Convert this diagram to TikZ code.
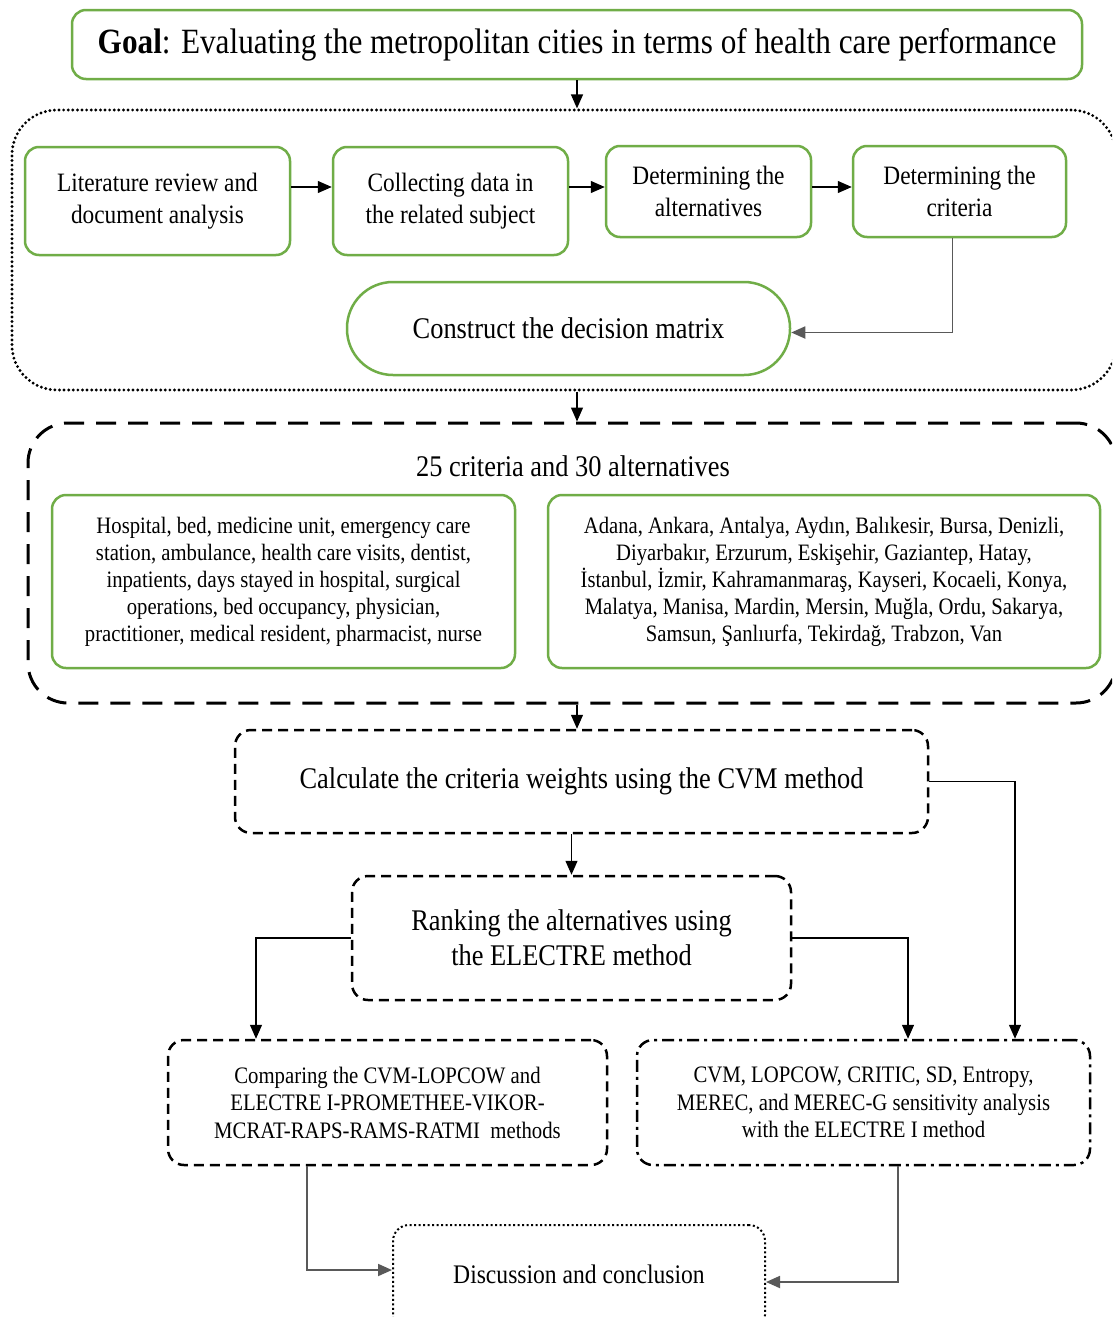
\documentclass[tikz,border=0pt]{standalone}
\usepackage{fontspec}
\setmainfont{Liberation Serif}[FakeStretch=0.88]
\usetikzlibrary{arrows.meta}
\definecolor{gr}{HTML}{70AD47}
\begin{document}
\begin{tikzpicture}[x=1pt,y=-1pt,
  gbox/.style={draw=gr, line width=2.5pt, rounded corners=14pt, align=center, inner sep=0pt},
  dbox/.style={draw, line width=2.5pt, rounded corners=16pt, align=center, inner sep=0pt},
  arr/.style={-{Triangle[length=14pt,width=12pt]}, line width=1.3pt},
  garr/.style={arr, draw=black!65, line width=1.8pt},
  fA/.style={font=\fontsize{26.5}{32}\selectfont},
  fB/.style={font=\fontsize{23.5}{27}\selectfont},
  fC/.style={font=\fontsize{30}{35}\selectfont},
  fD/.style={font=\fontsize{23.6}{27.5}\selectfont}
]
\clip (0,0) rectangle (1112,1317);
\fill[white] (0,0) rectangle (1112,1317);

\node[gbox, minimum width=1010pt, minimum height=69pt, font=\fontsize{35.5}{40}\selectfont] (goal) at (577,44.5)
  {\textbf{Goal}: Evaluating the metropolitan cities in terms of health care performance};

\node[draw, line width=3.2pt, dash pattern=on 0pt off 4.6pt, line cap=round, rounded corners=45pt,
  minimum width=1104pt, minimum height=280pt, inner sep=0pt] (c1) at (564,250) {};

\node[gbox, fA, minimum width=265pt, minimum height=108pt] (lit) at (157.5,201) {Literature review and\\document analysis};
\node[gbox, fA, minimum width=235pt, minimum height=108pt] (coll) at (450.5,201) {\raisebox{2pt}{\parbox{220pt}{\centering Collecting data in\\the related subject}}};
\node[gbox, fA, minimum width=205pt, minimum height=91pt] (alt) at (708.5,191.5) {Determining the\\alternatives};
\node[gbox, fA, minimum width=213pt, minimum height=91pt] (crit) at (959.5,191.5) {Determining the\\criteria};
\node[gbox, fC, minimum width=443pt, minimum height=93pt, rounded corners=46pt] (cons) at (568.5,328.5) {Construct the decision matrix};

\draw[arr] ([yshift=14pt]lit.east) -- ([yshift=14pt]coll.west);
\path ([yshift=14pt]coll.east) coordinate (a2);
\draw[arr] (a2) -- (a2 -| alt.west);
\draw[arr] ([yshift=4.5pt]alt.east) -- ([yshift=4.5pt]crit.west);
\draw[garr] ([xshift=-7pt]crit.south) |- ([yshift=-4pt]cons.east);

\node[draw, line width=3pt, dash pattern=on 20pt off 12pt, rounded corners=40pt,
  minimum width=1088pt, minimum height=280pt, inner sep=0pt] (c2) at (572,563) {};
\node[fC] (lab) at (573,466) {25 criteria and 30 alternatives};
\node[gbox, fB, minimum width=463pt, minimum height=173pt] (crl) at (283.5,581.5)
  {Hospital, bed, medicine unit, emergency care\\station, ambulance, health care visits, dentist,\\inpatients, days stayed in hospital, surgical\\operations, bed occupancy, physician,\\practitioner, medical resident, pharmacist, nurse};
\node[gbox, fB, minimum width=552pt, minimum height=173pt] (all) at (824,581.5)
  {Adana, Ankara, Antalya, Aydın, Balıkesir, Bursa, Denizli,\\Diyarbakır, Erzurum, Eskişehir, Gaziantep, Hatay,\\İstanbul, İzmir, Kahramanmaraş, Kayseri, Kocaeli, Konya,\\Malatya, Manisa, Mardin, Mersin, Muğla, Ordu, Sakarya,\\Samsun, Şanlıurfa, Tekirdağ, Trabzon, Van};

\node[dbox, fC, dash pattern=on 10pt off 6pt, minimum width=693pt, minimum height=103pt] (cvm) at (581.5,781.5)
  {Calculate the criteria weights using the CVM method};
\node[dbox, fC, dash pattern=on 10pt off 6pt, minimum width=439pt, minimum height=124pt] (rank) at (571.5,938)
  {Ranking the alternatives using\\the ELECTRE method};
\node[dbox, fD, dash pattern=on 10pt off 6pt, minimum width=439pt, minimum height=125pt] (comp) at (387.5,1102.5)
  {Comparing the CVM-LOPCOW and\\ELECTRE I-PROMETHEE-VIKOR-\\MCRAT-RAPS-RAMS-RATMI\ \ methods};
\node[dbox, fD, dash pattern=on 12pt off 5pt on 3pt off 5pt, minimum width=453pt, minimum height=125pt] (sens) at (863.5,1102.5)
  {CVM, LOPCOW, CRITIC, SD, Entropy,\\MEREC, and MEREC-G sensitivity analysis\\with the ELECTRE I method};
\node[dbox, line width=2pt, dash pattern=on 2pt off 2.5pt, minimum width=372pt, minimum height=106pt,
  font=\fontsize{26.8}{30}\selectfont] (disc) at (579,1278)
  {\raisebox{8pt}{Discussion and conclusion}};

\draw[arr] (goal.south) -- (goal.south |- c1.north);
\draw[arr] (c1.south -| goal.south) -- (goal.south |- c2.north);
\draw[arr] (c2.south -| goal.south) -- (goal.south |- cvm.north);
\draw[arr] (cvm.south -| rank.north) -- (rank.north);
\draw[arr] (cvm.east) -| ([xshift=151.5pt]sens.north);
\draw[arr] (rank.west) -| ([xshift=-131.5pt]comp.north);
\draw[arr] (rank.east) -| ([xshift=44.5pt]sens.north);
\draw[garr] ([xshift=-80.5pt]comp.south) |- ([yshift=8pt]disc.west);
\draw[garr] ([xshift=34.5pt]sens.south) |- ([yshift=-4pt]disc.east);
\end{tikzpicture}
\end{document}
